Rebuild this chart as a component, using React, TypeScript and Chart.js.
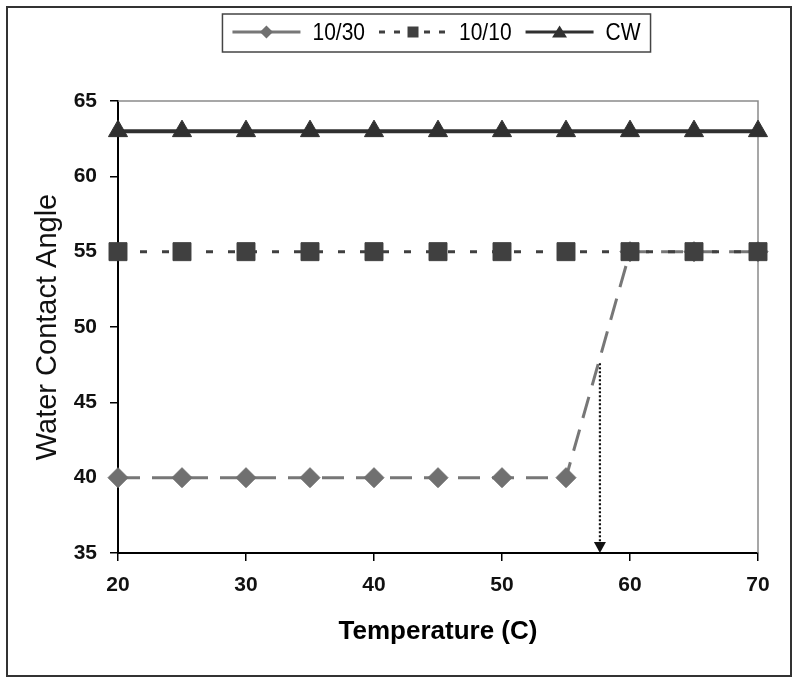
import React, { useEffect, useRef } from 'react';
import { Chart, registerables } from 'chart.js';

Chart.register(...registerables);

// ---- data ----
const temperatures = [20, 25, 30, 35, 40, 45, 50, 55, 60, 65, 70];
const angle1030 = [40, 40, 40, 40, 40, 40, 40, 40, 55, 55, 55];
const angle1010 = [55, 55, 55, 55, 55, 55, 55, 55, 55, 55, 55];
const angleCW = [63, 63, 63, 63, 63, 63, 63, 63, 63, 63, 63];
const seriesLabels = ['10/30', '10/10', 'CW'];
const xTickValues = [20, 30, 40, 50, 60, 70];
const yTickValues = [35, 40, 45, 50, 55, 60, 65];
const xTitle = 'Temperature (C)';
const yTitle = 'Water Contact Angle';
// dotted arrow marking the transition temperature
const arrowX = 57.65;
const arrowFromY = 47.6;
const arrowToY = 35;

const FONT = '"Liberation Sans", Arial, sans-serif';

const toPoints = (ys: number[]) => temperatures.map((t, i) => ({ x: t, y: ys[i] }));

function drawMarker(ctx: CanvasRenderingContext2D, style: string, x: number, y: number, s: number) {
  ctx.beginPath();
  if (style === 'rectRot') {
    ctx.moveTo(x, y - s);
    ctx.lineTo(x + s, y);
    ctx.lineTo(x, y + s);
    ctx.lineTo(x - s, y);
  } else if (style === 'rect') {
    ctx.rect(x - s, y - s, 2 * s, 2 * s);
  } else {
    ctx.moveTo(x, y - s);
    ctx.lineTo(x + s * 1.15, y + s * 0.85);
    ctx.lineTo(x - s * 1.15, y + s * 0.85);
  }
  ctx.closePath();
  ctx.fill();
}

const framePlugin = {
  id: 'frame',
  beforeDraw(chart: any) {
    const ctx = chart.ctx;
    ctx.save();
    ctx.fillStyle = '#ffffff';
    ctx.fillRect(0, 0, chart.width, chart.height);
    ctx.strokeStyle = '#333333';
    ctx.lineWidth = 2;
    ctx.strokeRect(7, 7, chart.width - 16, chart.height - 14);
    ctx.restore();
  },
  beforeDatasetsDraw(chart: any) {
    const { ctx, chartArea } = chart;
    ctx.save();
    ctx.strokeStyle = '#8a8a8a';
    ctx.lineWidth = 1.5;
    ctx.beginPath();
    ctx.moveTo(chartArea.left, chartArea.top);
    ctx.lineTo(chartArea.right, chartArea.top);
    ctx.lineTo(chartArea.right, chartArea.bottom);
    ctx.stroke();
    ctx.restore();
  },
};

const arrowPlugin = {
  id: 'arrow',
  afterDatasetsDraw(chart: any) {
    const { ctx, scales } = chart;
    const x = scales.x.getPixelForValue(arrowX);
    const y1 = scales.y.getPixelForValue(arrowFromY);
    const y2 = scales.y.getPixelForValue(arrowToY);
    ctx.save();
    ctx.strokeStyle = '#111111';
    ctx.lineWidth = 2.2;
    ctx.setLineDash([2, 2]);
    ctx.beginPath();
    ctx.moveTo(x, y1);
    ctx.lineTo(x, y2 - 10);
    ctx.stroke();
    ctx.setLineDash([]);
    ctx.fillStyle = '#111111';
    ctx.beginPath();
    ctx.moveTo(x - 6, y2 - 11);
    ctx.lineTo(x + 6, y2 - 11);
    ctx.lineTo(x, y2);
    ctx.closePath();
    ctx.fill();
    ctx.restore();
  },
};

const legendPlugin = {
  id: 'boxLegend',
  afterDraw(chart: any) {
    const ctx = chart.ctx;
    const ds = chart.data.datasets;
    const sampleLen = 68;
    const gapText = 12;
    const gapItem = 14;
    ctx.save();
    ctx.font = `21px ${FONT}`;
    const widths = ds.map((d: any) => ctx.measureText(d.label).width);
    let total = 0;
    widths.forEach((w: number, i: number) => {
      total += sampleLen + gapText + w + (i < widths.length - 1 ? gapItem : 0);
    });
    const cx = 436.5;
    const cy = 32;
    const padX = 10;
    const boxL = cx - total / 2 - padX;
    const boxR = cx + total / 2 + padX;
    ctx.fillStyle = '#ffffff';
    ctx.fillRect(boxL, 14, boxR - boxL, 38);
    ctx.strokeStyle = '#444444';
    ctx.lineWidth = 1.5;
    ctx.strokeRect(boxL, 14, boxR - boxL, 38);
    let x = cx - total / 2;
    ds.forEach((d: any, i: number) => {
      ctx.strokeStyle = d.borderColor;
      ctx.lineWidth = 3;
      ctx.setLineDash(d.legendDash || []);
      ctx.beginPath();
      ctx.moveTo(x, cy);
      ctx.lineTo(x + sampleLen, cy);
      ctx.stroke();
      ctx.setLineDash([]);
      ctx.fillStyle = d.pointBackgroundColor;
      drawMarker(ctx, d.pointStyle, x + sampleLen / 2, cy, d.legendMarker);
      x += sampleLen + gapText;
      ctx.fillStyle = '#000000';
      ctx.textBaseline = 'middle';
      ctx.textAlign = 'left';
      ctx.save();
      ctx.translate(x, cy + 1);
      ctx.scale(1, 1.18);
      ctx.fillText(d.label, 0, 0);
      ctx.restore();
      x += widths[i] + gapItem;
    });
    ctx.restore();
  },
};

export default function App() {
  const ref = useRef<HTMLCanvasElement | null>(null);

  useEffect(() => {
    if (!ref.current) return;
    const chart = new Chart(ref.current, {
      type: 'line',
      data: {
        datasets: [
          {
            label: seriesLabels[0],
            data: toPoints(angle1030),
            borderColor: '#777777',
            backgroundColor: '#707070',
            pointBackgroundColor: '#707070',
            pointBorderColor: '#707070',
            borderWidth: 3,
            borderDash: [22, 12],
            pointStyle: 'rectRot',
            pointRadius: 10,
            pointBorderWidth: 1,
            order: 3,
            clip: false,
            legendDash: [],
            legendMarker: 6.5,
          } as any,
          {
            label: seriesLabels[1],
            data: toPoints(angle1010),
            borderColor: '#404040',
            backgroundColor: '#404040',
            pointBackgroundColor: '#404040',
            pointBorderColor: '#404040',
            borderWidth: 3,
            borderDash: [7, 15],
            pointStyle: 'rect',
            pointRadius: 12.7,
            pointBorderWidth: 1,
            order: 2,
            clip: false,
            legendDash: [6, 9],
            legendMarker: 5.5,
          } as any,
          {
            label: seriesLabels[2],
            data: toPoints(angleCW),
            borderColor: '#303030',
            backgroundColor: '#303030',
            pointBackgroundColor: '#303030',
            pointBorderColor: '#303030',
            borderWidth: 4,
            pointStyle: 'triangle',
            pointRadius: 11,
            pointBorderWidth: 1,
            order: 1,
            clip: false,
            legendDash: [],
            legendMarker: 6.5,
          } as any,
        ],
      },
      options: {
        animation: false,
        responsive: false,
        devicePixelRatio: 1,
        layout: { padding: { top: 101, right: 42, bottom: 0, left: 0 } },
        plugins: {
          legend: { display: false },
          tooltip: { enabled: false },
        },
        scales: {
          x: {
            type: 'linear',
            min: 20,
            max: 70,
            afterFit: (s: any) => {
              s.height = 130;
            },
            afterBuildTicks: (s: any) => {
              s.ticks = xTickValues.map((v) => ({ value: v }));
            },
            ticks: {
              font: { family: FONT, size: 21, weight: 'bold' },
              color: '#111111',
              padding: 12,
            },
            grid: {
              drawOnChartArea: false,
              drawTicks: true,
              tickLength: 8,
              color: '#000000',
              lineWidth: 1.5,
            },
            border: { display: true, color: '#000000', width: 2 },
            title: {
              display: true,
              text: xTitle,
              color: '#000000',
              font: { family: FONT, size: 26, weight: 'bold' },
              padding: { top: 0, bottom: 36 },
            },
          },
          y: {
            type: 'linear',
            min: 35,
            max: 65,
            afterFit: (s: any) => {
              s.width = 118;
            },
            afterBuildTicks: (s: any) => {
              s.ticks = yTickValues.map((v) => ({ value: v }));
            },
            ticks: {
              font: { family: FONT, size: 21, weight: 'bold' },
              color: '#111111',
              padding: 13,
            },
            grid: {
              drawOnChartArea: false,
              drawTicks: true,
              tickLength: 8,
              color: '#000000',
              lineWidth: 1.5,
            },
            border: { display: true, color: '#000000', width: 2 },
            title: {
              display: true,
              text: yTitle,
              color: '#111111',
              font: { family: FONT, size: 29, weight: 'normal' },
              padding: { top: 31, bottom: 0 },
            },
          },
        },
      } as any,
      plugins: [framePlugin, arrowPlugin, legendPlugin],
    });
    return () => chart.destroy();
  }, []);

  return (
    <div style={{ position: 'absolute', left: 0, top: 0, width: 800, height: 683 }}>
      <canvas ref={ref} width={800} height={683} style={{ display: 'block' }} />
    </div>
  );
}
